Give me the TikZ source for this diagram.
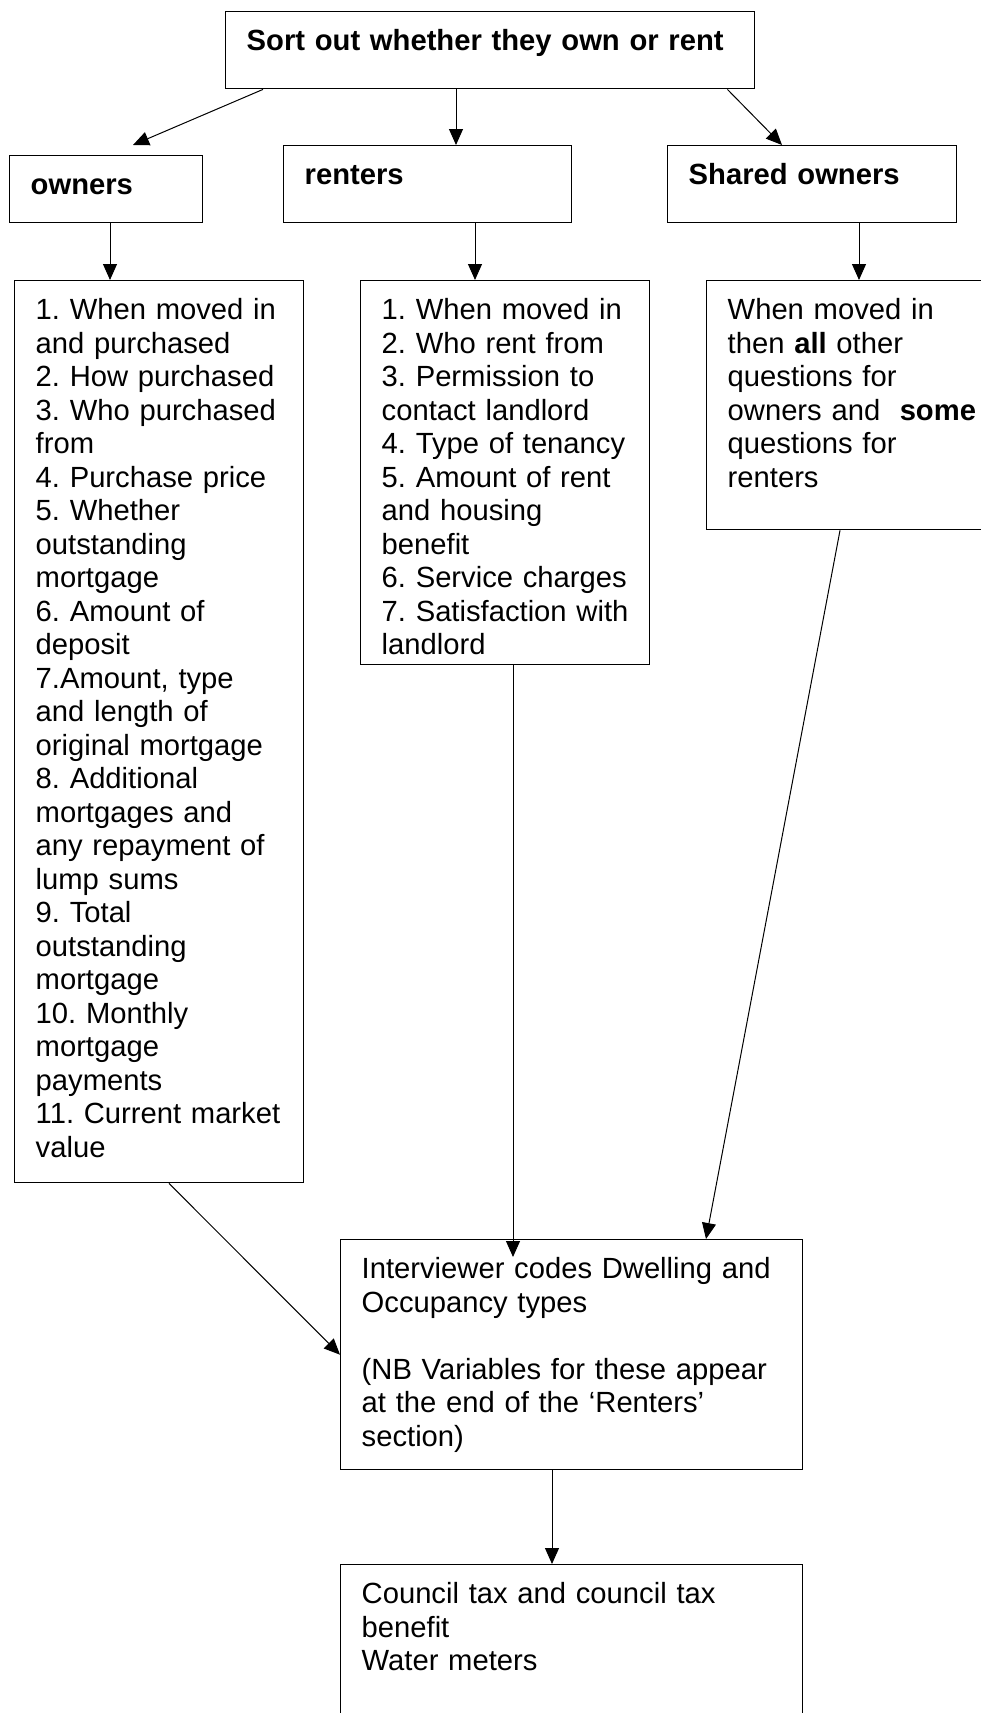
\documentclass[tikz,border=0pt]{standalone}
\usepackage{fontspec}
\setmainfont{Liberation Sans}
\usetikzlibrary{arrows.meta}
\tikzset{
  qbox/.style 2 args={draw, line width=.7pt, anchor=north west, align=left,
    inner xsep=10.5pt, inner ysep=0pt, text width=#1, text height=19.5pt, text depth=#2},
  arr/.style={-{Triangle[length=8pt,width=7pt]}, line width=.5pt},
}
\frenchspacing
\hyphenpenalty=10000
\begin{document}
\begin{tikzpicture}[x=0.5pt,y=-0.5pt,font=\fontsize{14.6pt}{16.75pt}\selectfont]
  % questionnaire routing: own / rent / shared ownership
  \useasboundingbox (0,0) rectangle (980,1713);
  \node[qbox={243.5pt}{19pt}] (sort) at (225,11) {\bfseries Sort out whether they own or rent};
  \node[qbox={75.5pt}{14pt}] (own) at (9,155) {\bfseries owners};
  \node[qbox={123pt}{19pt}] (rent) at (283,145) {\bfseries renters};
  \node[qbox={123.5pt}{19pt}] (shared) at (667,145) {\bfseries Shared owners};
  \coordinate (ownin) at (133,145);
  \node[qbox={123.5pt}{431.5pt}] (ownlist) at (14,280) {1. When moved in\\and purchased\\2. How purchased\\3. Who purchased\\from\\4. Purchase price\\5. Whether\\outstanding\\mortgage\\6. Amount of\\deposit\\7.Amount, type\\and length of\\original mortgage\\8. Additional\\mortgages and\\any repayment of\\lump sums\\9. Total\\outstanding\\mortgage\\10. Monthly\\mortgage\\payments\\11. Current market\\value};
  \node[qbox={123.5pt}{172.5pt}] (rentlist) at (360,280) {1. When moved in\\2. Who rent from\\3. Permission to\\contact landlord\\4. Type of tenancy\\5. Amount of rent\\and housing\\benefit\\6. Service charges\\7. Satisfaction with\\landlord};
  \node[qbox={129pt}{105pt}] (sharedlist) at (706,280) {When moved in\\then \textbf{all} other\\questions for\\owners and~ \textbf{some}\\questions for\\renters};
  \node[qbox={210pt}{95.5pt}] (inter) at (340,1239) {Interviewer codes Dwelling and\\Occupancy types\\[16.75pt](NB Variables for these appear\\at the end of the ‘Renters’\\section)};
  \node[qbox={210pt}{80.5pt}] (council) at (340,1564) {Council tax and council tax\\benefit\\Water meters};
  \draw[arr] ([xshift=19pt]sort.south west) -- (ownin);
  \draw[arr] ([xshift=115.5pt]sort.south west) -- ([xshift=86.5pt]rent.north west);
  \draw[arr] ([xshift=-14pt]sort.south east) -- ([xshift=57.5pt]shared.north west);
  \draw[arr] ([xshift=50.5pt]own.south west) -- ([xshift=48pt]ownlist.north west);
  \draw[arr] ([xshift=96pt]rent.south west) -- ([xshift=57.5pt]rentlist.north west);
  \draw[arr] ([xshift=96pt]shared.south west) -- ([xshift=76.5pt]sharedlist.north west);
  \draw[arr] ([xshift=77.5pt]ownlist.south west) -- (inter.west);
  \draw[arr] ([xshift=76.5pt]rentlist.south west) -- ([xshift=86.5pt,yshift=-9pt]inter.north west);
  \draw[arr] ([xshift=67pt]sharedlist.south west) -- ([xshift=183pt]inter.north west);
  \draw[arr] ([xshift=106pt]inter.south west) -- ([xshift=106pt]council.north west);
\end{tikzpicture}
\end{document}
